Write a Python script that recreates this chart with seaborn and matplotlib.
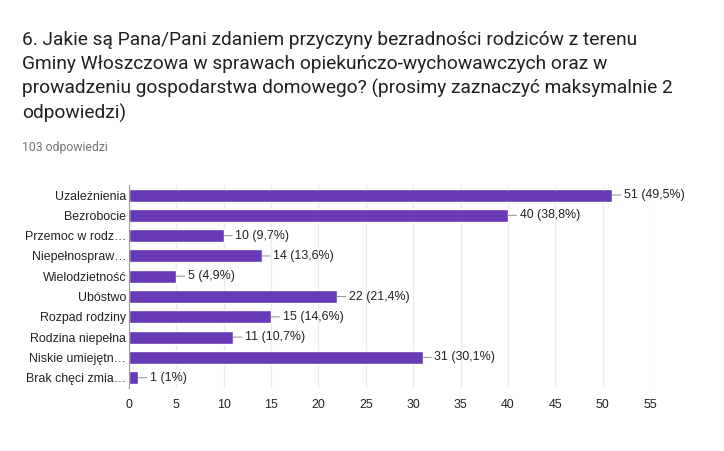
import matplotlib
matplotlib.use("Agg")
import matplotlib.pyplot as plt
import seaborn as sns
import pandas as pd

categories = ["Uzależnienia", "Bezrobocie", "Przemoc w rodz…", "Niepełnospraw…",
              "Wielodzietność", "Ubóstwo", "Rozpad rodziny", "Rodzina niepełna",
              "Niskie umiejętn…", "Brak chęci zmia…"]
counts = [51, 40, 10, 14, 5, 22, 15, 11, 31, 1]
percents = ["49,5%", "38,8%", "9,7%", "13,6%", "4,9%", "21,4%", "14,6%", "10,7%", "30,1%", "1%"]
xticks = [0, 5, 10, 15, 20, 25, 30, 35, 40, 45, 50, 55]

title = ("6. Jakie są Pana/Pani zdaniem przyczyny bezradności rodziców z terenu\n"
         "Gminy Włoszczowa w sprawach opiekuńczo-wychowawczych oraz w\n"
         "prowadzeniu gospodarstwa domowego? (prosimy zaznaczyć maksymalnie 2\n"
         "odpowiedzi)")
subtitle = "103 odpowiedzi"

sns.set_style("white")
plt.rcParams["font.family"] = ["Liberation Sans", "DejaVu Sans"]

df = pd.DataFrame({"cat": categories, "n": counts})

fig = plt.figure(figsize=(7.24, 4.51), dpi=100)
ax = fig.add_axes([0.178, 0.140, 0.720, 0.450])

sns.barplot(data=df, x="n", y="cat", color="#673ab7", saturation=1, width=0.64, ax=ax)

for i, (n, p) in enumerate(zip(counts, percents)):
    ax.annotate(f"{n} ({p})", xy=(n, i), xytext=(8.5, 0), textcoords="offset points",
                va="center", ha="left", fontsize=8.9, color="#222222",
                arrowprops=dict(arrowstyle="-", color="#999999", lw=0.8,
                                shrinkA=0, shrinkB=0))

ax.set_xlim(0, 55)
ax.set_xticks(xticks)
ax.set_xlabel("")
ax.set_ylabel("")
ax.grid(axis="x", color="#ebebeb", lw=1)
ax.set_axisbelow(True)
for s in ["top", "right", "bottom"]:
    ax.spines[s].set_visible(False)
ax.spines["left"].set_color("#999999")
ax.tick_params(axis="both", length=0, labelsize=8.9, labelcolor="#222222")
ax.tick_params(axis="x", pad=8)
ax.tick_params(axis="y", pad=2)

fig.text(0.030, 0.932, title, fontsize=13.8, family=["Roboto", "DejaVu Sans"],
         color="#212121", va="top", ha="left", linespacing=1.42)
fig.text(0.030, 0.674, subtitle, fontsize=8.8, family=["Roboto", "DejaVu Sans"],
         color="#757575", va="center", ha="left")

fig.savefig("out.png", dpi=100)
